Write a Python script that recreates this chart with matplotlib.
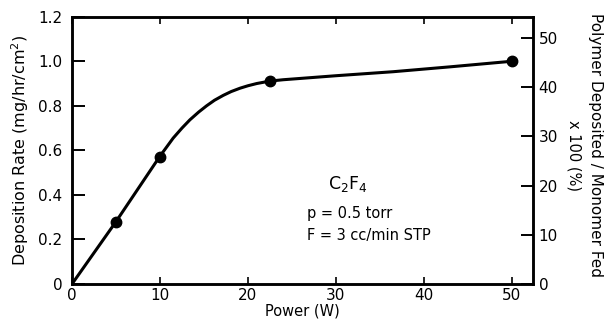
import numpy as np
import matplotlib
matplotlib.use('Agg')
import matplotlib.pyplot as plt

plt.rcParams['font.family'] = ['DejaVu Sans']

# measured points (W, mg/hr/cm^2)
power_pts = [5, 10, 22.5, 50]
rate_pts = [0.28, 0.57, 0.91, 1.0]

# smooth curve drawn through the measurements
power_curve = [0, 5, 10, 11.5, 12.5, 13.4, 14.4, 15.3, 16.2, 17.2, 18.1, 19.1, 20.0, 21.0,
               22.5, 24, 26, 30, 36.5, 43, 50]
rate_curve = [0, 0.28, 0.574, 0.655, 0.700, 0.737, 0.772, 0.800, 0.825, 0.847, 0.864,
              0.879, 0.890, 0.900, 0.911, 0.917, 0.923, 0.935, 0.953, 0.975, 1.0]

x_ticks = [0, 10, 20, 30, 40, 50]
y_ticks = [0, 0.2, 0.4, 0.6, 0.8, 1.0, 1.2]
y_ticklabels = ['0', '0.2', '0.4', '0.6', '0.8', '1.0', '1.2']
pct_ticks = [0, 10, 20, 30, 40, 50]

fig = plt.figure(figsize=(6.06, 3.25), dpi=100)
ax = fig.add_axes([72 / 606, 1 - 284 / 325, (533 - 72) / 606, (284 - 16.7) / 325])

ax.plot(power_curve, rate_curve, color='black', lw=2.2, solid_capstyle='round',
        solid_joinstyle='round')
ax.plot(power_pts, rate_pts, 'o', color='black', ms=7.5)

ax.set_xlim(0, 52.4)
ax.set_ylim(0, 1.2)
ax.set_xticks(x_ticks)
ax.set_yticks(y_ticks)
ax.set_yticklabels(y_ticklabels)
ax.tick_params(axis='y', direction='in', length=9, width=1.4, labelsize=11, pad=7)
ax.tick_params(axis='x', direction='in', length=5, width=1.2, labelsize=11, pad=3,
               top=True)
for s in ax.spines.values():
    s.set_linewidth(1.8)

ax.set_xlabel('Power (W)', fontsize=10.5, labelpad=0)
ax.set_ylabel('Deposition Rate (mg/hr/cm$^2$)', fontsize=11.5, labelpad=5)

ax2 = ax.twinx()
ax2.set_ylim(0, 54.3)
ax2.set_yticks(pct_ticks)
ax2.tick_params(axis='y', direction='in', length=9, width=1.4, labelsize=11, pad=4)
for s in ax2.spines.values():
    s.set_linewidth(1.8)

fig.text(595 / 606, 1 - 145 / 325, 'Polymer Deposited / Monomer Fed', rotation=-90,
         ha='center', va='center', fontsize=11)
fig.text(574 / 606, 1 - 155 / 325, 'x 100 (%)', rotation=-90,
         ha='center', va='center', fontsize=10.5)

ax.text(0.555, 0.375, 'C$_2$F$_4$', transform=ax.transAxes, fontsize=12.5, ha='left', va='center')
ax.text(0.51, 0.265, 'p = 0.5 torr', transform=ax.transAxes, fontsize=10.5, ha='left', va='center')
ax.text(0.51, 0.18, 'F = 3 cc/min STP', transform=ax.transAxes, fontsize=10.5, ha='left', va='center')

fig.savefig('out.png', dpi=100)
